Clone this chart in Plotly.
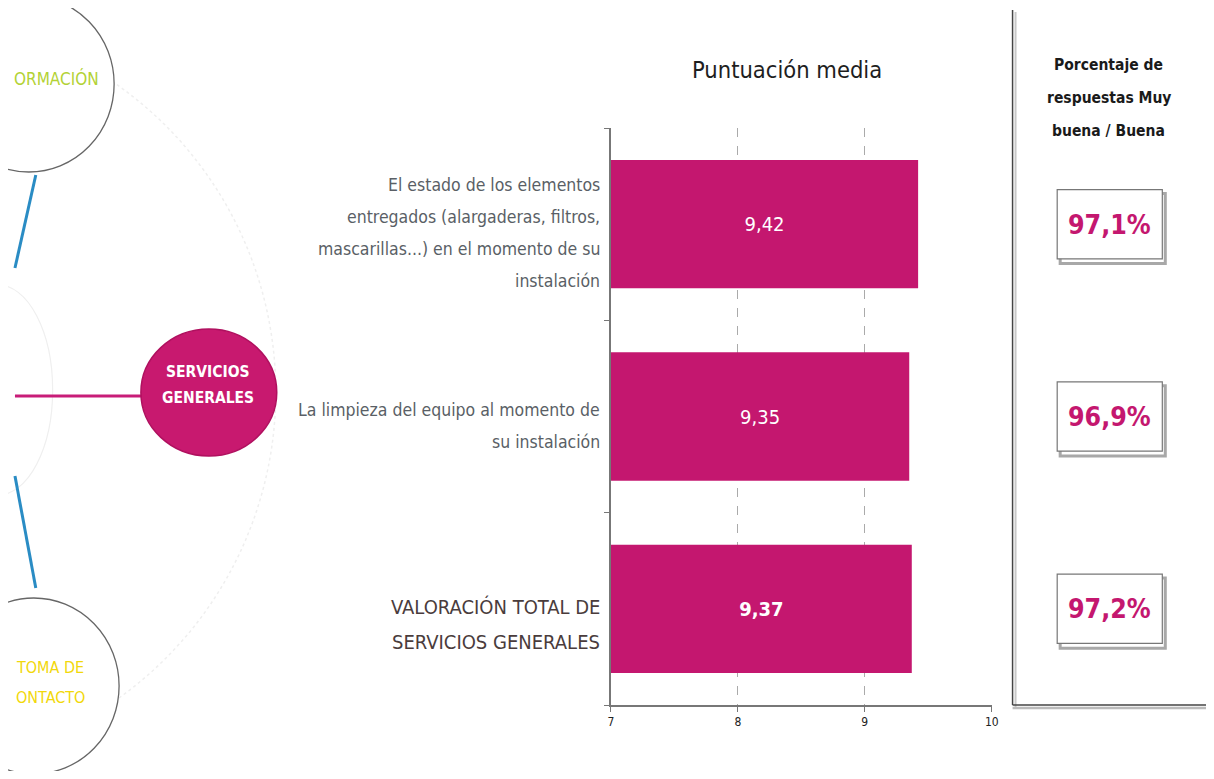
import plotly.graph_objects as go

W, H = 1214, 779
OFF = 8  # default page body margin
FW, FH = W - 2 * OFF, H - 2 * OFF

# ---- data ----
categories = [
    ["El estado de los elementos", "entregados (alargaderas, filtros,",
     "mascarillas...) en el momento de su", "instalación"],
    ["La limpieza del equipo al momento de", "su instalación"],
    ["VALORACIÓN TOTAL DE", "SERVICIOS GENERALES"],
]
scores = [9.42, 9.35, 9.37]
score_labels = ["9,42", "9,35", "9,37"]
pct_labels = ["97,1%", "96,9%", "97,2%"]
x_ticks = [7, 8, 9, 10]
pct_title = ["Porcentaje de", "respuestas Muy", "buena / Buena"]

MAG = "#c4176f"
COND = "DejaVu Sans Condensed, Liberation Sans Narrow, sans-serif"


def px(x):
    return (x - OFF) / FW


def py(y):
    return 1 - (y - OFF) / FH


ypos = list(range(len(categories)))

fig = go.Figure()
fig.add_trace(go.Bar(
    x=[s - 7 for s in scores], base=7, y=ypos, orientation="h",
    width=0.667,
    marker=dict(color=MAG, line=dict(width=0)),
    text=[f"<b>{t}</b>" if i == 2 else t for i, t in enumerate(score_labels)],
    textposition="inside", insidetextanchor="middle",
    textfont=dict(color="white", size=20, family=COND),
    hoverinfo="skip",
))

shapes = []
annotations = []


def txt(x, y, text, size, color, xanchor="center", bold=False, xref="paper", yref="paper", yshift=0):
    annotations.append(dict(x=x, y=y, xref=xref, yref=yref,
                            text=f"<b>{text}</b>" if bold else text,
                            showarrow=False, xanchor=xanchor, yanchor="middle",
                            yshift=yshift, borderpad=0,
                            font=dict(size=size, color=color, family=COND)))


# category labels (one annotation per line)
for i, lines in enumerate(categories):
    if i == 2:
        size, color, ls, base = 20, "#4a3c3c", 35, -16
    else:
        size, color, ls, base = 17.5, "#5a5f66", 32, -9
    n = len(lines)
    for j, line in enumerate(lines):
        shift = -((j - (n - 1) / 2) * ls) + base
        txt(px(603), i, line, size, color, xanchor="right", yref="y", yshift=shift)

# title
txt(px(791), py(70), "Puntuación media", 23.5, "#1e1e1e")

# right panel
shapes.append(dict(type="line", xref="paper", yref="paper", x0=px(1021), x1=px(1021),
                   y0=py(12), y1=py(707), line=dict(color="#c8c8c8", width=2)))
shapes.append(dict(type="line", xref="paper", yref="paper", x0=px(1018), x1=px(1018),
                   y0=py(10), y1=py(705), line=dict(color="#444", width=1.5)))
shapes.append(dict(type="line", xref="paper", yref="paper", x0=px(1018), x1=px(1214),
                   y0=py(708), y1=py(708), line=dict(color="#bbbbbb", width=2.5)))
shapes.append(dict(type="line", xref="paper", yref="paper", x0=px(1018), x1=px(1214),
                   y0=py(705), y1=py(705), line=dict(color="#444", width=1.5)))
for j, line in enumerate(pct_title):
    txt(px(1115), py(65 + 33 * j), line, 15.5, "#1a1a1a", bold=True)
for i, p in enumerate(pct_labels):
    shapes.append(dict(type="rect", xref="paper", yref="y", x0=px(1066), x1=px(1172),
                       y0=i + 0.205, y1=i - 0.16, line=dict(color="#a8a8a8", width=3),
                       fillcolor="rgba(0,0,0,0)", layer="below"))
    shapes.append(dict(type="rect", xref="paper", yref="y", x0=px(1063), x1=px(1169),
                       y0=i + 0.18, y1=i - 0.18, line=dict(color="#777", width=1.2),
                       fillcolor="white", layer="below"))
    txt(px(1116), i, p, 26.5, MAG, bold=True, yref="y")

# left decoration
shapes.append(dict(type="circle", xref="paper", yref="paper",
                   x0=px(-475), x1=px(275), y0=py(17), y1=py(767),
                   line=dict(color="#efefef", width=1.5, dash="dot"), layer="below"))
shapes.append(dict(type="circle", xref="paper", yref="paper",
                   x0=px(-60), x1=px(112), y0=py(-4), y1=py(172),
                   line=dict(color="#666", width=1.3), fillcolor="white"))
shapes.append(dict(type="circle", xref="paper", yref="paper",
                   x0=px(-55), x1=px(117), y0=py(598), y1=py(774),
                   line=dict(color="#666", width=1.3), fillcolor="white"))
shapes.append(dict(type="circle", xref="paper", yref="paper",
                   x0=px(-60), x1=px(50), y0=py(285), y1=py(495),
                   line=dict(color="#efefef", width=1.2), layer="below"))
shapes.append(dict(type="line", xref="paper", yref="paper", x0=px(33), x1=px(12),
                   y0=py(175), y1=py(268), line=dict(color="#2a8cc4", width=3)))
shapes.append(dict(type="line", xref="paper", yref="paper", x0=px(12), x1=px(33),
                   y0=py(476), y1=py(588), line=dict(color="#2a8cc4", width=3)))
shapes.append(dict(type="line", xref="paper", yref="paper", x0=px(12), x1=px(142),
                   y0=py(396), y1=py(396), line=dict(color="#c81c78", width=3)))
shapes.append(dict(type="circle", xref="paper", yref="paper",
                   x0=px(139), x1=px(276), y0=py(329), y1=py(456),
                   line=dict(color="#b0105f", width=1.5), fillcolor="#c8196f"))
txt(px(207), py(372), "SERVICIOS", 15.5, "white", bold=True)
txt(px(207), py(398), "GENERALES", 15.5, "white", bold=True)
txt(px(10), py(78), "ORMACIÓN", 17, "#b3d235", xanchor="left")
txt(px(12), py(667), "TOMA DE", 16, "#f2d80a", xanchor="left")
txt(px(12), py(697), "ONTACTO", 16, "#f2d80a", xanchor="left")

fig.update_layout(
    width=FW, height=FH, margin=dict(l=0, r=0, t=0, b=0),
    paper_bgcolor="white", plot_bgcolor="white",
    showlegend=False, shapes=shapes, annotations=annotations,
    xaxis=dict(domain=[px(613), px(997)], range=[7, 10], tickvals=x_ticks,
               ticks="outside", ticklen=5, tickcolor="#777",
               showline=True, linecolor="#777", linewidth=1.5,
               showgrid=True, gridcolor="#aaaaaa", griddash="dash", gridwidth=1,
               zeroline=False, tickfont=dict(size=12, color="#222", family=COND)),
    yaxis=dict(domain=[py(705), py(128)], range=[2.5, -0.5],
               tickvals=[-0.5, 0.5, 1.5, 2.5], showticklabels=False,
               ticks="outside", ticklen=5, tickcolor="#777",
               showline=True, linecolor="#777", linewidth=1.5,
               showgrid=False, zeroline=False),
)

fig.write_html("out.html")
